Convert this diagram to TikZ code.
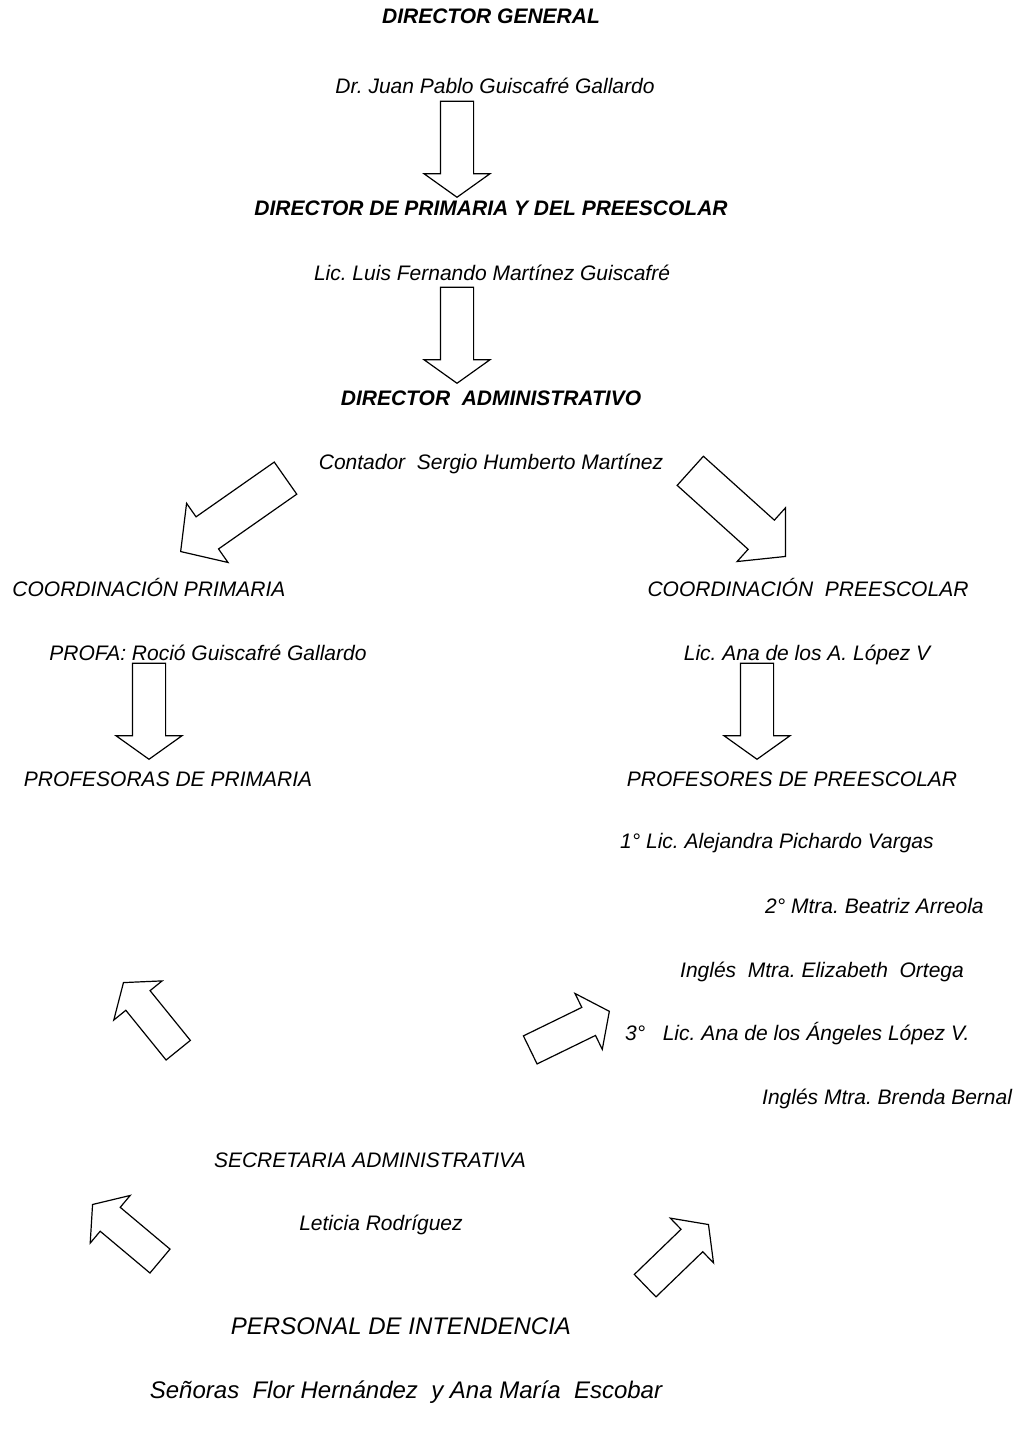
\documentclass[tikz,border=0pt]{standalone}
\usepackage{fontspec}
\setmainfont{Liberation Sans}
\usepackage{tikz}
\usetikzlibrary{shapes.arrows}
\frenchspacing

\begin{document}
\begin{tikzpicture}[
  x=1pt, y=-1pt,
  postxt/.style={font=\fontsize{21}{25}\selectfont\bfseries\itshape, anchor=base, inner sep=0pt},
  nametxt/.style={font=\fontsize{21}{25}\selectfont\itshape, anchor=base, inner sep=0pt},
  stafftxt/.style={font=\fontsize{21}{25}\selectfont\itshape, anchor=base west, inner sep=0pt},
  bigtxt/.style={font=\fontsize{24}{28}\selectfont\itshape, anchor=base, inner sep=0pt},
  blk/.style={single arrow, draw, fill=white, line width=1.2pt, inner xsep=0pt,
              minimum width=0pt, single arrow head indent=0pt, anchor=tip},
  arrdown/.style={blk, minimum height=96, inner ysep=16, single arrow head extend=16.5,
               single arrow tip angle=109, rotate=-90},
  arrslant/.style={blk, minimum height=128, inner ysep=19, single arrow head extend=16.5,
                single arrow tip angle=96},
  arrsmall/.style={blk, minimum height=88, inner ysep=15, single arrow head extend=15.5,
                single arrow tip angle=107}
]
  \useasboundingbox (0,0) rectangle (1018,1437);

  % top of the chart
  \node[postxt]  (dg)  at (491, 24)  {DIRECTOR GENERAL};
  \node[nametxt] (jp)  at (495, 93)  {Dr. Juan Pablo Guiscafré Gallardo};
  \node[postxt]  (dp)  at (491, 215) {DIRECTOR DE PRIMARIA Y DEL PREESCOLAR};
  \node[nametxt] (lf)  at (492, 280) {Lic. Luis Fernando Martínez Guiscafré};
  \node[postxt]  (da)  at (491, 405) {DIRECTOR\ \ ADMINISTRATIVO};
  \node[nametxt] (cs)  at (491, 469) {Contador\ \ Sergio Humberto Martínez};

  % the two coordinations
  \node[nametxt] (cp)  at (149, 596) {COORDINACIÓN PRIMARIA};
  \node[nametxt] (cpe) at (808, 596) {COORDINACIÓN\ \ PREESCOLAR};
  \node[nametxt] (pr)  at (208, 660) {PROFA: Roció Guiscafré Gallardo};
  \node[nametxt] (la)  at (807, 660) {Lic. Ana de los A. López V};
  \node[nametxt] (pp)  at (168, 786) {PROFESORAS DE PRIMARIA};
  \node[nametxt] (ppe) at (792, 786) {PROFESORES DE PREESCOLAR};

  % teachers of the preschool
  \node[stafftxt] (t1) at (620, 848)  {1° Lic. Alejandra Pichardo Vargas};
  \node[stafftxt] (t2) at (765, 913)  {2° Mtra. Beatriz Arreola};
  \node[stafftxt] (t3) at (680, 977)  {Inglés\ \ Mtra. Elizabeth\ \ Ortega};
  \node[stafftxt] (t4) at (625, 1040) {3°\ \ \ Lic. Ana de los Ángeles López V.};
  \node[stafftxt] (t5) at (762, 1104) {Inglés Mtra. Brenda Bernal};

  % staff
  \node[nametxt] (sa) at (370, 1167) {SECRETARIA ADMINISTRATIVA};
  \node[nametxt] (lr) at (381, 1230) {Leticia Rodríguez};
  \node[bigtxt]  (pi) at (401, 1334) {PERSONAL DE INTENDENCIA};
  \node[bigtxt]  (se) at (406, 1398) {Señoras\ \ Flor Hernández\ \ y Ana María\ \ Escobar};

  % block arrows
  \node[arrdown] (a1) at (457, 198) {};
  \node[arrdown] (a2) at (457, 384) {};
  \node[arrslant, rotate=215] (a3) at (180, 552) {};
  \node[arrslant, rotate=-42] (a4) at (786, 557) {};
  \node[arrdown] (a5) at (149, 760) {};
  \node[arrdown] (a6) at (757, 760) {};
  \node[arrsmall, minimum height=87, rotate=129] (u1) at (123, 982) {};
  \node[arrsmall, rotate=26]  (r1) at (610, 1011) {};
  \node[arrsmall, rotate=140] (u2) at (92, 1204) {};
  \node[arrsmall, rotate=44]  (r2) at (709, 1224) {};
\end{tikzpicture}
\end{document}
